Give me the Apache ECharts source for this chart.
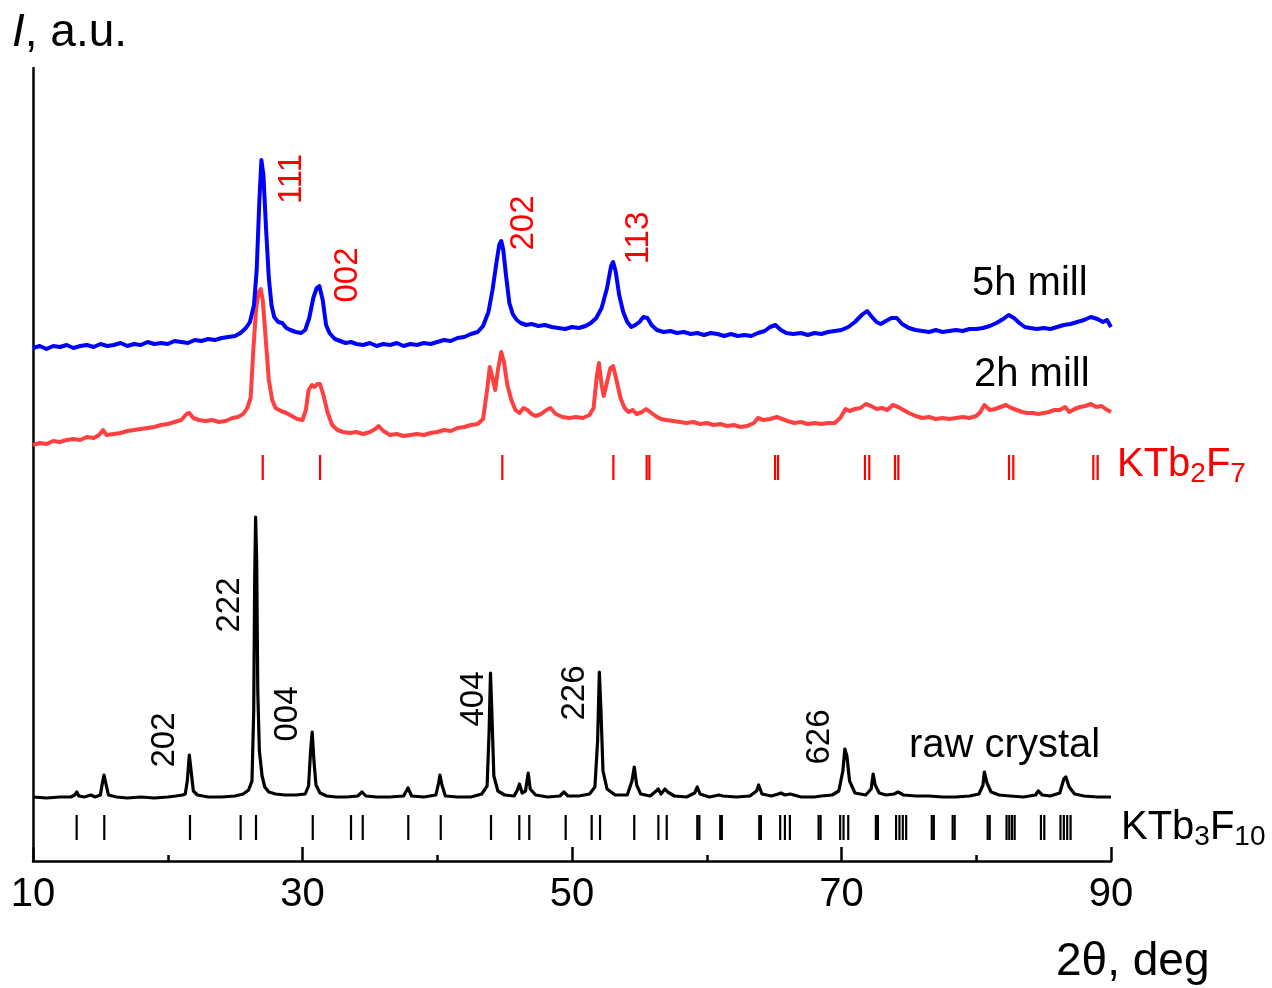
<!DOCTYPE html>
<html>
<head>
<meta charset="utf-8">
<title>KTb3F10 XRD</title>
<script src="https://cdn.jsdelivr.net/npm/echarts@6/dist/echarts.min.js"></script>
<style>
  html, body { margin: 0; padding: 0; background: #fff; }
  #chart { width: 1272px; height: 988px; }
</style>
</head>
<body>
<div id="chart"></div>
<script>
// 2theta (deg), intensity (a.u., curves stacked with offsets as in the figure)
const mill5h = [
  [10.0,513],[10.5,515],[11.0,512],[11.5,515],[12.0,514],[12.5,516],[13.0,513],[13.5,515],[14.0,516],[14.5,514],
  [15.0,517],[15.5,515],[16.0,516],[16.5,518],[17.0,515],[17.5,517],[18.0,516],[18.5,519],[19.0,517],[19.5,518],
  [20.0,517],[20.5,520],[21.0,519],[21.5,518],[22.0,521],[22.5,520],[23.0,522],[23.5,521],[24.0,523],[24.5,524],
  [25.0,525],[25.4,528],[25.8,533],[26.1,539],[26.4,556],[26.6,591],[26.8,661],[26.95,701],[27.1,686],[27.3,631],
  [27.5,583],[27.7,556],[27.9,544],[28.2,539],[28.5,538],[28.8,533],[29.1,531],[29.5,529],[29.9,528],[30.2,531],
  [30.5,543],[30.8,563],[31.05,573],[31.25,575],[31.5,561],[31.75,536],[32.0,528],[32.4,522],[32.8,520],[33.2,518],
  [33.6,519],[34.0,517],[34.5,516],[35.0,518],[35.5,515],[36.0,517],[36.5,516],[37.0,518],[37.5,515],[38.0,517],
  [38.5,516],[39.0,518],[39.5,517],[40.0,519],[40.5,521],[41.0,520],[41.5,523],[42.0,524],[42.5,527],[43.0,529],
  [43.4,535],[43.8,549],[44.1,571],[44.4,599],[44.6,616],[44.75,620],[44.9,611],[45.1,586],[45.35,558],[45.6,547],
  [45.9,541],[46.2,538],[46.6,536],[47.0,537],[47.5,535],[48.0,536],[48.5,534],[49.0,533],[49.5,532],[50.0,534],
  [50.5,533],[51.0,535],[51.4,538],[51.8,543],[52.2,553],[52.6,573],[52.9,595],[53.05,599],[53.25,589],[53.5,566],
  [53.8,549],[54.1,539],[54.4,534],[54.7,536],[55.0,539],[55.3,544],[55.6,543],[55.9,536],[56.3,531],[56.8,529],
  [57.3,530],[57.8,528],[58.3,529],[58.8,527],[59.3,528],[59.8,526],[60.3,528],[60.8,527],[61.3,525],[61.8,527],
  [62.3,525],[62.8,526],[63.3,525],[63.8,528],[64.3,530],[64.7,534],[65.1,536],[65.5,531],[65.9,528],[66.4,527],
  [67.0,528],[67.5,526],[68.0,528],[68.5,527],[69.0,529],[69.5,530],[70.0,531],[70.5,534],[71.0,539],[71.5,546],
  [71.9,550],[72.2,545],[72.6,539],[72.9,537],[73.3,540],[73.7,543],[74.1,543],[74.5,537],[75.0,533],[75.5,531],
  [76.0,530],[76.5,529],[77.0,531],[77.5,529],[78.0,530],[78.5,531],[79.0,530],[79.5,532],[80.0,532],[80.5,533],
  [81.0,535],[81.5,538],[82.0,542],[82.4,546],[82.8,543],[83.2,538],[83.6,534],[84.0,533],[84.5,532],[85.0,533],
  [85.5,532],[86.0,534],[86.5,536],[87.0,537],[87.5,539],[88.0,541],[88.5,544],[89.0,542],[89.4,539],[89.7,541],
  [90.0,534]
];

const mill2h = [
  [10.0,416],[10.5,418],[11.0,417],[11.5,420],[12.0,419],[12.5,421],[13.0,422],[13.5,421],[14.0,424],[14.5,423],
  [14.9,426],[15.2,431],[15.45,426],[16.0,427],[16.5,428],[17.0,430],[17.5,431],[18.0,432],[18.5,433],[19.0,434],
  [19.5,436],[20.0,437],[20.5,439],[21.0,441],[21.4,447],[21.6,448],[21.9,443],[22.3,441],[22.8,440],[23.3,441],
  [23.8,439],[24.3,440],[24.8,443],[25.2,444],[25.6,447],[25.9,453],[26.15,463],[26.35,511],[26.55,551],[26.75,569],
  [26.9,572],[27.05,561],[27.25,526],[27.5,481],[27.75,461],[28.0,453],[28.4,450],[28.8,448],[29.2,445],[29.6,442],
  [30.0,441],[30.25,451],[30.45,471],[30.7,476],[30.9,474],[31.1,477],[31.3,477],[31.55,466],[31.85,449],[32.2,436],
  [32.6,431],[33.0,429],[33.5,428],[34.0,429],[34.5,427],[35.0,429],[35.4,432],[35.65,435],[36.0,430],[36.5,426],
  [37.0,427],[37.5,425],[38.0,426],[38.5,427],[39.0,426],[39.5,428],[40.0,429],[40.5,431],[41.0,430],[41.5,433],
  [42.0,434],[42.5,436],[43.0,437],[43.4,442],[43.7,471],[43.9,494],[44.1,483],[44.3,471],[44.5,491],[44.75,509],
  [44.95,499],[45.2,476],[45.5,461],[45.8,451],[46.1,448],[46.4,453],[46.7,451],[47.0,447],[47.3,445],[47.7,447],
  [48.1,451],[48.4,453],[48.8,447],[49.3,444],[49.8,443],[50.3,444],[50.8,443],[51.3,446],[51.6,453],[51.85,486],
  [52.0,498],[52.2,476],[52.35,465],[52.6,479],[52.85,493],[53.05,495],[53.3,481],[53.6,463],[53.9,453],[54.2,449],
  [54.5,451],[54.8,447],[55.2,449],[55.5,452],[55.8,449],[56.2,445],[56.6,442],[57.0,441],[57.5,440],[58.0,439],
  [58.5,438],[59.0,439],[59.5,437],[60.0,438],[60.5,436],[61.0,437],[61.5,435],[62.0,436],[62.5,434],[63.0,435],
  [63.5,438],[63.8,443],[64.2,441],[64.7,442],[65.2,444],[65.6,442],[66.0,440],[66.5,438],[67.0,439],[67.5,437],
  [68.0,438],[68.5,437],[69.0,438],[69.5,438],[69.9,443],[70.3,452],[70.6,450],[71.0,452],[71.4,453],[71.8,457],
  [72.2,455],[72.6,452],[73.0,453],[73.4,451],[73.8,456],[74.2,454],[74.6,451],[75.0,448],[75.5,445],[76.0,443],
  [76.5,444],[77.0,442],[77.5,443],[78.0,442],[78.5,443],[79.0,444],[79.5,443],[80.0,445],[80.3,449],[80.6,456],
  [81.0,451],[81.4,452],[81.8,454],[82.2,456],[82.6,453],[83.0,451],[83.4,449],[83.8,448],[84.2,448],[84.6,447],
  [85.0,448],[85.4,449],[85.8,451],[86.2,451],[86.6,454],[86.9,449],[87.3,452],[87.7,454],[88.1,455],[88.5,457],
  [88.9,454],[89.3,455],[89.6,452],[90.0,449]
];

const rawCrystal = [
  [10.0,64],[11.0,63],[12.0,64],[12.8,64],[13.1,66],[13.25,69],[13.4,65],[13.8,64],[14.3,66],[14.6,64],
  [15.0,66],[15.15,78],[15.27,86],[15.4,78],[15.6,66],[16.2,64],[17.0,63],[18.0,64],[19.0,63],[20.0,64],
  [20.6,65],[21.1,66],[21.3,67],[21.45,80],[21.6,106],[21.75,88],[21.9,70],[22.2,66],[23.0,64],[24.0,64],
  [25.0,65],[25.6,67],[26.0,71],[26.25,80],[26.38,150],[26.45,280],[26.52,344],[26.6,300],[26.68,170],[26.8,110],
  [27.0,85],[27.2,74],[27.5,69],[28.0,67],[28.7,66],[29.5,66],[30.2,67],[30.45,75],[30.6,110],[30.72,129],
  [30.85,100],[31.0,76],[31.3,68],[31.8,65],[32.5,64],[33.3,64],[34.1,65],[34.42,69],[34.7,65],[35.5,64],
  [36.5,64],[37.5,65],[37.83,73],[38.1,65],[39.0,64],[39.9,66],[40.1,78],[40.2,86],[40.35,76],[40.6,65],
  [41.5,64],[42.5,64],[43.3,67],[43.7,75],[43.85,130],[43.95,188],[44.05,150],[44.2,85],[44.5,70],[45.0,66],
  [45.7,65],[45.95,71],[46.1,77],[46.3,68],[46.55,70],[46.75,88],[46.9,72],[47.3,66],[48.2,64],[49.1,65],
  [49.4,69],[49.7,65],[50.5,65],[51.3,67],[51.7,74],[51.9,120],[52.03,189],[52.15,150],[52.3,90],[52.6,72],
  [53.2,66],[54.1,66],[54.45,80],[54.62,94],[54.8,76],[55.1,67],[55.8,65],[56.25,70],[56.4,72],[56.6,67],
  [56.9,72],[57.1,69],[57.6,65],[58.5,64],[59.1,68],[59.3,74],[59.5,67],[60.2,64],[60.9,66],[61.2,65],
  [62.2,64],[63.2,65],[63.7,70],[63.85,76],[64.1,67],[64.8,65],[65.3,67],[65.5,68],[65.8,66],[66.2,67],
  [67.0,64],[68.0,64],[68.5,65],[69.3,66],[69.8,70],[70.1,90],[70.25,112],[70.4,105],[70.6,80],[71.0,68],
  [71.8,66],[72.2,72],[72.35,87],[72.5,76],[72.8,68],[73.3,66],[73.9,67],[74.2,69],[74.6,66],[75.5,65],
  [76.5,65],[77.5,64],[78.5,64],[79.5,65],[80.2,67],[80.5,76],[80.6,89],[80.8,78],[81.1,69],[81.7,66],
  [82.5,65],[83.5,64],[84.4,66],[84.6,70],[84.9,66],[85.5,65],[86.2,68],[86.5,82],[86.65,84],[86.9,74],
  [87.3,67],[88.0,65],[89.0,64],[90.0,64]
];

// reflection positions (deg)
const ktb2f7Ticks = [27.05, 31.30, 44.83, 53.07, 55.54, 55.74, 65.07, 65.29, 71.74, 72.06,
  73.97, 74.22, 82.43, 82.75, 88.69, 89.01];
const ktb3f10Ticks = [13.24, 15.29, 21.65, 25.41, 26.55, 30.76, 33.60, 34.47, 37.85, 40.26,
  43.99, 46.09, 46.83, 49.53, 51.46, 52.08, 54.62, 56.41, 57.03, 59.30, 59.45, 61.00, 61.12,
  63.90, 64.02, 65.45, 65.80, 66.17, 68.30, 68.45, 69.90, 70.15, 70.50, 72.55, 72.70, 74.05,
  74.30, 74.55, 74.80, 76.70, 76.85, 78.25, 78.40, 80.85, 81.00, 82.25, 82.45, 82.65, 82.85,
  84.80, 85.05, 86.25, 86.50, 86.75, 87.00];

// hkl labels: [2theta, height, text]
const millHkl = [[29.22, 682, '111'], [33.38, 586, '002'], [46.44, 638, '202'], [54.97, 623, '113']];
const crystalHkl = [[19.76, 121, '202'], [24.58, 256, '222'], [28.92, 147, '004'],
  [42.73, 162, '404'], [50.22, 168, '226'], [68.41, 124, '626']];

const FONT = '"Liberation Sans", Arial, sans-serif';

function tickSeries(xs, lo, hi, color) {
  return {
    type: 'custom',
    silent: true,
    data: xs.map(v => [v]),
    encode: { x: 0 },
    renderItem: (params, api) => {
      const a = api.coord([api.value(0), lo]);
      const b = api.coord([api.value(0), hi]);
      return {
        type: 'line',
        shape: { x1: a[0], y1: a[1], x2: b[0], y2: b[1] },
        style: { stroke: color, lineWidth: 2.2 }
      };
    }
  };
}

function hklSeries(list, color) {
  return {
    type: 'scatter',
    silent: true,
    symbolSize: 1,
    itemStyle: { color: 'transparent', opacity: 1 },
    data: list,
    label: {
      show: true,
      position: 'inside',
      rotate: 90,
      opacity: 1,
      formatter: p => p.value[2],
      color: color,
      fontSize: 33,
      fontFamily: FONT
    }
  };
}

function lineSeries(data, color, width) {
  return {
    type: 'line',
    data: data,
    symbol: 'none',
    silent: true,
    lineStyle: { color: color, width: width, join: 'round' }
  };
}

const chart = echarts.init(document.getElementById('chart'));
chart.setOption({
  animation: false,
  backgroundColor: '#ffffff',
  grid: { left: 33, right: 161, top: 68, bottom: 127 },
  xAxis: {
    type: 'value',
    min: 10,
    max: 90,
    interval: 20,
    axisLine: { lineStyle: { color: '#000', width: 2.5 } },
    axisTick: { inside: true, length: 14, lineStyle: { color: '#000', width: 2.5 } },
    minorTick: { show: true, splitNumber: 2, length: 6, lineStyle: { color: '#000', width: 2.5 } },
    splitLine: { show: false },
    axisLabel: { fontSize: 40, color: '#000', fontFamily: FONT, margin: 14 }
  },
  yAxis: {
    type: 'value',
    min: 0,
    max: 793,
    axisLine: { show: true, lineStyle: { color: '#000', width: 2.5 } },
    axisTick: { show: false },
    axisLabel: { show: false },
    splitLine: { show: false }
  },
  series: [
    lineSeries(rawCrystal, '#000000', 3.2),
    lineSeries(mill2h, '#ff4040', 4),
    lineSeries(mill5h, '#0000ff', 4),
    tickSeries(ktb2f7Ticks, 381, 406, '#ff0000'),
    tickSeries(ktb3f10Ticks, 21, 46, '#000000'),
    hklSeries(millHkl, '#ff0000'),
    hklSeries(crystalHkl, '#000000')
  ],
  graphic: [
    {
      type: 'text', x: 12, y: 33,
      style: {
        text: '{i|I}, a.u.', font: '46px ' + FONT, fill: '#000', verticalAlign: 'middle',
        rich: { i: { fontStyle: 'italic', fontSize: 46, fontFamily: FONT } }
      }
    },
    {
      type: 'text', x: 1056, y: 962,
      style: { text: '2θ, deg', font: '46px ' + FONT, fill: '#000', verticalAlign: 'middle' }
    },
    {
      type: 'text', x: 972, y: 284,
      style: { text: '5h mill', font: '40px ' + FONT, fill: '#000', verticalAlign: 'middle' }
    },
    {
      type: 'text', x: 974, y: 375,
      style: { text: '2h mill', font: '40px ' + FONT, fill: '#000', verticalAlign: 'middle' }
    },
    {
      type: 'text', x: 909, y: 746,
      style: { text: 'raw crystal', font: '40px ' + FONT, fill: '#000', verticalAlign: 'middle' }
    },
    {
      type: 'text', x: 1117, y: 465,
      style: {
        text: '{n|KTb}{s|2}{n|F}{s|7}', fill: '#ff0000', verticalAlign: 'middle',
        rich: {
          n: { fontSize: 40, fontFamily: FONT, color: '#ff0000', lineHeight: 46 },
          s: { fontSize: 28, fontFamily: FONT, color: '#ff0000', lineHeight: 18, verticalAlign: 'bottom' }
        }
      }
    },
    {
      type: 'text', x: 1121, y: 828,
      style: {
        text: '{n|KTb}{s|3}{n|F}{s|10}', fill: '#000', verticalAlign: 'middle',
        rich: {
          n: { fontSize: 40, fontFamily: FONT, color: '#000', lineHeight: 46 },
          s: { fontSize: 28, fontFamily: FONT, color: '#000', lineHeight: 18, verticalAlign: 'bottom' }
        }
      }
    }
  ]
});
</script>
</body>
</html>
